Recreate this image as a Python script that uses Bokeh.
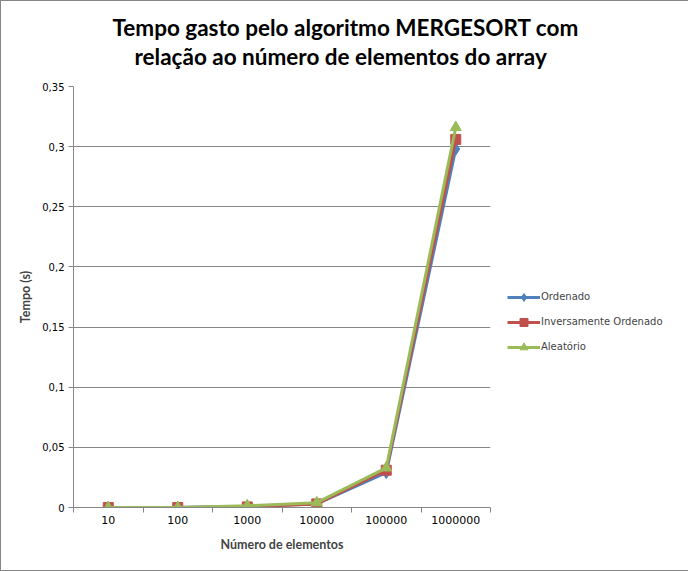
from bokeh.plotting import figure
from bokeh.models import Range1d, FixedTicker, Title, Legend, LegendItem
from bokeh.embed import file_html
from bokeh.resources import INLINE

categories = ["10", "100", "1000", "10000", "100000", "1000000"]
ordenado = [0.0, 0.0, 0.001, 0.003, 0.029, 0.298]
inversamente = [0.0, 0.0, 0.0005, 0.003, 0.031, 0.306]
aleatorio = [0.0, 0.0, 0.0015, 0.004, 0.033, 0.316]
y_ticks = [0, 0.05, 0.1, 0.15, 0.2, 0.25, 0.3, 0.35]
y_tick_labels = ["0", "0,05", "0,1", "0,15", "0,2", "0,25", "0,3", "0,35"]

xs = [i + 0.5 for i in range(len(categories))]

GRAY = "#868686"
p = figure(frame_width=417, frame_height=421, output_backend="svg", toolbar_location=None,
           x_range=Range1d(0, len(categories)), y_range=Range1d(0, 0.35),
           min_border_left=72, min_border_right=197, min_border_top=85, min_border_bottom=63)
p.styles = {"border": "1px solid #868686"}
p.outline_line_color = None
p.background_fill_color = "white"
p.border_fill_color = "white"

p.xgrid.visible = False
p.ygrid.ticker = FixedTicker(ticks=y_ticks)
p.ygrid.grid_line_color = GRAY
p.ygrid.grid_line_width = 1

# X axis
xa = p.xaxis[0]
xa.ticker = FixedTicker(ticks=xs, minor_ticks=list(range(len(categories) + 1)))
xa.major_label_overrides = {x: c for x, c in zip(xs, categories)}
xa.major_tick_line_alpha = 0
xa.major_tick_out = 5
xa.major_tick_in = 0
xa.minor_tick_line_color = GRAY
xa.minor_tick_out = 5
xa.minor_tick_in = 0
xa.axis_line_color = GRAY
xa.major_label_text_font = "DejaVu Sans"
xa.major_label_text_font_size = "11px"
xa.major_label_text_color = "black"
xa.major_label_standoff = 3
xa.axis_label = "Número de elementos"
xa.axis_label_text_font = "Lato"
xa.axis_label_text_font_style = "bold"
xa.axis_label_text_font_size = "12.5px"
xa.axis_label_standoff = 10

# Y axis
ya = p.yaxis[0]
ya.ticker = FixedTicker(ticks=y_ticks, minor_ticks=[])
ya.major_label_overrides = {t: l for t, l in zip(y_ticks, y_tick_labels)}
ya.major_tick_line_color = GRAY
ya.major_tick_out = 5
ya.major_tick_in = 0
ya.axis_line_color = GRAY
ya.major_label_text_font = "DejaVu Sans"
ya.major_label_text_font_size = "10px"
ya.major_label_text_color = "black"
ya.major_label_standoff = 4
ya.axis_label = "Tempo (s)"
ya.axis_label_text_font = "Lato"
ya.axis_label_text_font_style = "bold"
ya.axis_label_text_font_size = "12.5px"
ya.axis_label_standoff = 6

series = [
    ("Ordenado", ordenado, "#4F81BD", "diamond", 12),
    ("Inversamente Ordenado", inversamente, "#C0504D", "square", 10),
    ("Aleatório", aleatorio, "#9BBB59", "triangle", 11),
]
blank = p.scatter([], [], alpha=0)
items = [LegendItem(label=" ", renderers=[blank]), LegendItem(label=" ", renderers=[blank])]
for name, vals, color, marker, size in series:
    r1 = p.line(xs, vals, line_color=color, line_width=3)
    r2 = p.scatter(xs, vals, marker=marker, size=size, fill_color=color, line_color=color)
    items.append(LegendItem(label=name, renderers=[r1, r2]))

legend = Legend(items=items, location="center_left")
legend.border_line_color = None
legend.background_fill_alpha = 0
legend.padding = 15
legend.margin = 17
legend.spacing = 5
legend.glyph_width = 33
legend.glyph_height = 20
legend.label_standoff = 1
legend.label_text_font = "DejaVu Sans"
legend.label_text_font_size = "10px"
legend.label_height = 20
p.add_layout(legend, "right")

# spacer between frame and title lines
p.add_layout(Title(text=" ", text_font_size="1px", standoff=14), "above")
title_lines = [("Tempo gasto pelo algoritmo MERGESORT com", 39),
               ("relação ao número de elementos do array", 61)]
for txt, off in reversed(title_lines):
    p.add_layout(Title(text=txt, align="left", offset=off, text_font="Lato",
                       text_font_style="bold", text_font_size="22.5px",
                       text_color="black", standoff=0), "above")

open("out.html", "w").write(file_html(p, INLINE))
